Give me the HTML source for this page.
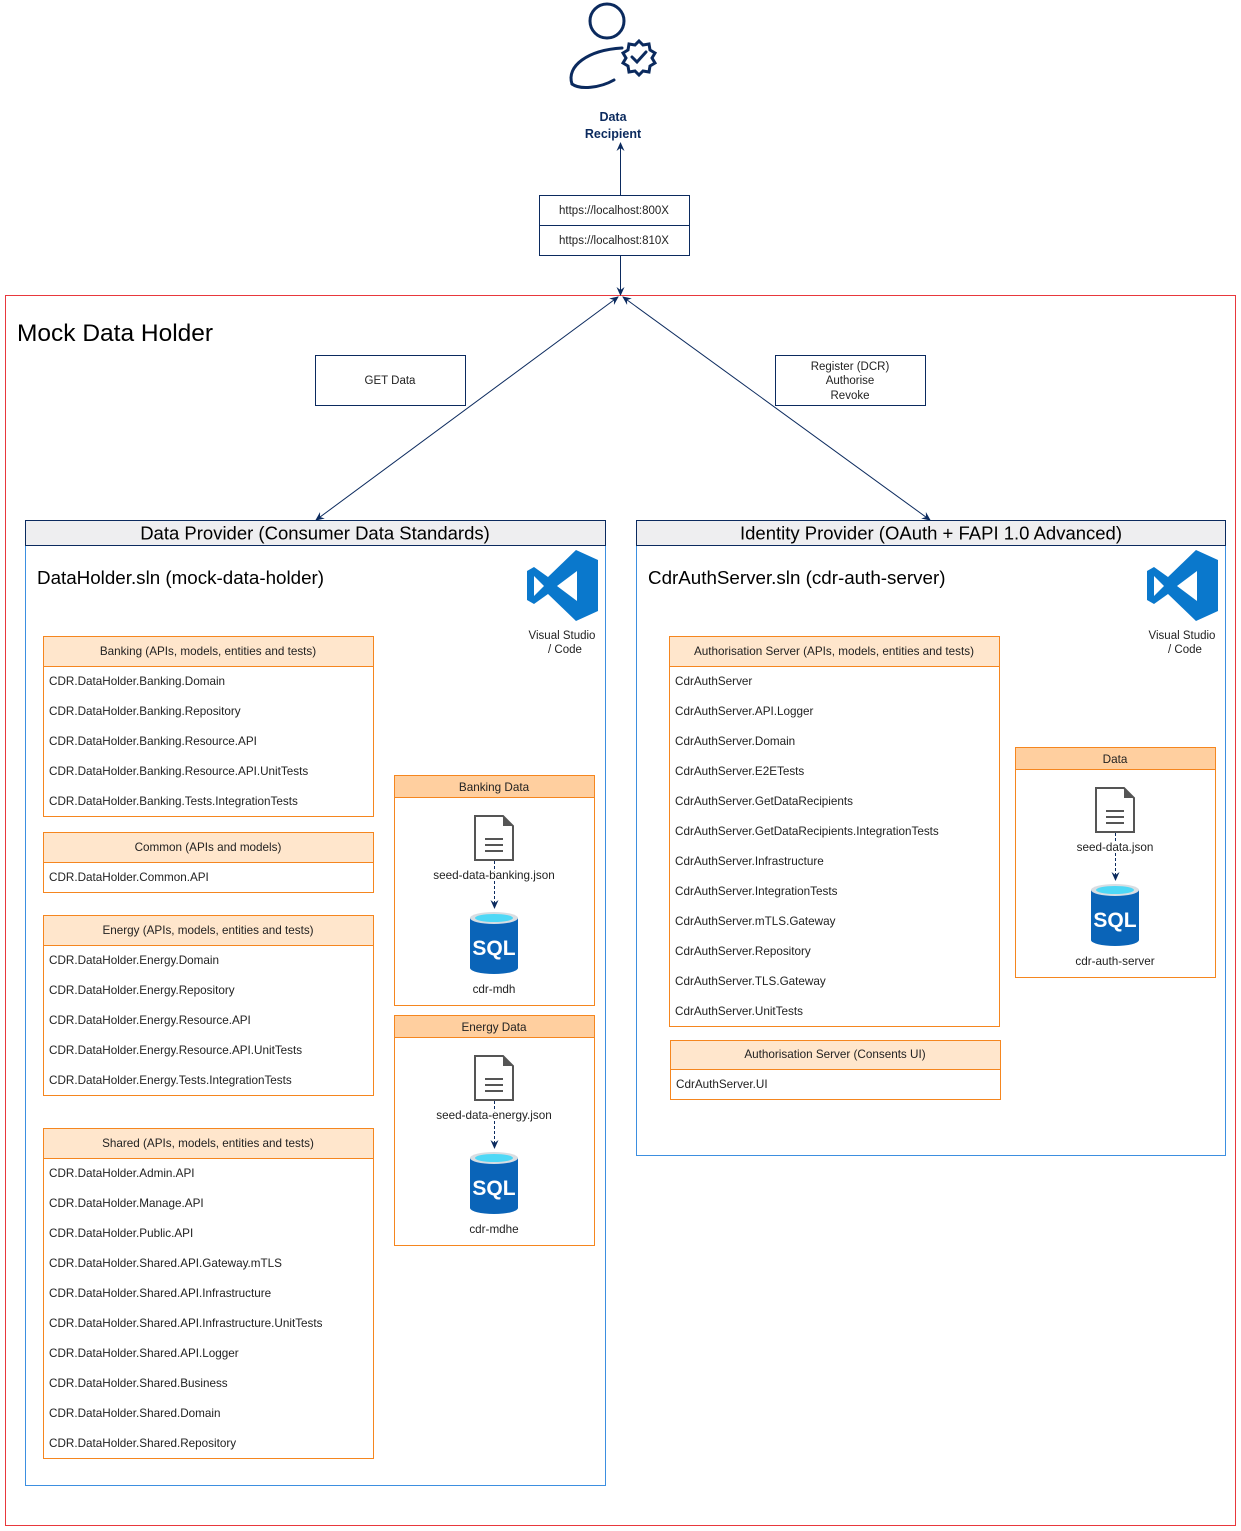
<!DOCTYPE html>
<html><head><meta charset="utf-8"><style>
html,body{margin:0;padding:0;background:#fff;}
svg{display:block;font-family:"Liberation Sans","DejaVu Sans",sans-serif;}
</style></head><body>
<svg width="1241" height="1531" viewBox="0 0 1241 1531" xmlns="http://www.w3.org/2000/svg">
<defs>
<marker id="ah" markerWidth="10" markerHeight="10" refX="8" refY="5" orient="auto-start-reverse" markerUnits="userSpaceOnUse">
<path d="M0,1 L9,5 L0,9 L3,5 Z" fill="#0b2a5e"/>
</marker>
</defs>

<rect x="5.5" y="295.5" width="1230" height="1230" fill="#fff" stroke="#e8383d" stroke-width="1"/>
<text x="17" y="341" font-size="24.5" fill="#000">Mock Data Holder</text>

<g fill="none" stroke="#0b2a5e" stroke-width="3" stroke-linecap="round">
<circle cx="607" cy="21" r="17"/>
<path d="M572,84 C566,66 588,50 622,48"/>
<path d="M572,84 C580,90 600,88 614,80"/>
<path d="M639,41 l4,4 6,-1 1,6 5,3 -3,5 3,5 -5,3 -1,6 -6,-1 -4,4 -4,-4 -6,1 -1,-6 -5,-3 3,-5 -3,-5 5,-3 1,-6 6,1 z"/>
<path d="M632,57 l5,5 9,-10"/>
</g>
<text x="613" y="121" font-size="12.5" font-weight="bold" fill="#0b2a5e" text-anchor="middle">Data</text>
<text x="613" y="138" font-size="12.5" font-weight="bold" fill="#0b2a5e" text-anchor="middle">Recipient</text>

<rect x="539.5" y="195.5" width="150" height="60" fill="#fff" stroke="#0b2a5e"/>
<line x1="539.5" y1="225.5" x2="689.5" y2="225.5" stroke="#0b2a5e"/>
<text x="614" y="214" font-size="11.5" fill="#222" text-anchor="middle">https://localhost:800X</text>
<text x="614" y="244" font-size="11.5" fill="#222" text-anchor="middle">https://localhost:810X</text>

<line x1="620.5" y1="195" x2="620.5" y2="143" stroke="#0b2a5e" marker-end="url(#ah)"/>
<line x1="620.5" y1="256" x2="620.5" y2="295" stroke="#0b2a5e" marker-end="url(#ah)"/>
<line x1="618" y1="297" x2="316" y2="520" stroke="#0b2a5e" marker-start="url(#ah)" marker-end="url(#ah)"/>
<line x1="623" y1="297" x2="930" y2="520" stroke="#0b2a5e" marker-start="url(#ah)" marker-end="url(#ah)"/>

<rect x="315.5" y="355.5" width="150" height="50" fill="#fff" stroke="#0b2a5e"/>
<text x="390" y="384" font-size="11.5" fill="#222" text-anchor="middle">GET Data</text>
<rect x="775.5" y="355.5" width="150" height="50" fill="#fff" stroke="#0b2a5e"/>
<text x="850" y="370" font-size="11.5" fill="#222" text-anchor="middle">Register (DCR)</text>
<text x="850" y="384" font-size="11.5" fill="#222" text-anchor="middle">Authorise</text>
<text x="850" y="399" font-size="11.5" fill="#222" text-anchor="middle">Revoke</text>

<rect x="25.5" y="520.5" width="580" height="965" fill="#fff" stroke="#3d8fe0"/>
<rect x="25.5" y="520.5" width="580" height="25" fill="#eeeef0" stroke="#0b2a5e"/>
<text x="315" y="539.5" font-size="18.5" fill="#000" text-anchor="middle">Data Provider (Consumer Data Standards)</text>
<text x="37" y="584" font-size="18.8" fill="#000">DataHolder.sln (mock-data-holder)</text>

<rect x="636.5" y="520.5" width="589" height="635" fill="#fff" stroke="#3d8fe0"/>
<rect x="636.5" y="520.5" width="589" height="25" fill="#eeeef0" stroke="#0b2a5e"/>
<text x="931" y="539.5" font-size="18.5" fill="#000" text-anchor="middle">Identity Provider (OAuth + FAPI 1.0 Advanced)</text>
<text x="648" y="584" font-size="18.8" fill="#000">CdrAuthServer.sln (cdr-auth-server)</text>

<g fill="#0a78cc">
<path d="M576,550 L598,560 L598,611 L576,621 L548,594 L534,604 L527,600 L527,571 L534,567 L548,577 Z"/>
<path fill="#fff" d="M534,576 L534,596 L544,586 Z M577,571 L577,601 L557,586 Z"/>
<path transform="translate(620,0)" d="M576,550 L598,560 L598,611 L576,621 L548,594 L534,604 L527,600 L527,571 L534,567 L548,577 Z"/>
<path transform="translate(620,0)" fill="#fff" d="M534,576 L534,596 L544,586 Z M577,571 L577,601 L557,586 Z"/>
</g>
<g font-size="11.5" fill="#222" text-anchor="middle">
<text x="562" y="639">Visual Studio</text><text x="565" y="653">/ Code</text>
<text x="1182" y="639">Visual Studio</text><text x="1185" y="653">/ Code</text>
</g>

<g font-size="11.7" fill="#222">
<rect x="43.5" y="636.5" width="330" height="180" fill="#fff" stroke="#f5861f"/>
<rect x="43.5" y="636.5" width="330" height="30" fill="#ffe6cc" stroke="#f5861f"/>
<text x="208" y="655" text-anchor="middle">Banking (APIs, models, entities and tests)</text>
<text x="49" y="685">CDR.DataHolder.Banking.Domain</text>
<text x="49" y="715">CDR.DataHolder.Banking.Repository</text>
<text x="49" y="745">CDR.DataHolder.Banking.Resource.API</text>
<text x="49" y="775">CDR.DataHolder.Banking.Resource.API.UnitTests</text>
<text x="49" y="805">CDR.DataHolder.Banking.Tests.IntegrationTests</text>
<rect x="43.5" y="832.5" width="330" height="60" fill="#fff" stroke="#f5861f"/>
<rect x="43.5" y="832.5" width="330" height="30" fill="#ffe6cc" stroke="#f5861f"/>
<text x="208" y="851" text-anchor="middle">Common (APIs and models)</text>
<text x="49" y="881">CDR.DataHolder.Common.API</text>
<rect x="43.5" y="915.5" width="330" height="180" fill="#fff" stroke="#f5861f"/>
<rect x="43.5" y="915.5" width="330" height="30" fill="#ffe6cc" stroke="#f5861f"/>
<text x="208" y="934" text-anchor="middle">Energy (APIs, models, entities and tests)</text>
<text x="49" y="964">CDR.DataHolder.Energy.Domain</text>
<text x="49" y="994">CDR.DataHolder.Energy.Repository</text>
<text x="49" y="1024">CDR.DataHolder.Energy.Resource.API</text>
<text x="49" y="1054">CDR.DataHolder.Energy.Resource.API.UnitTests</text>
<text x="49" y="1084">CDR.DataHolder.Energy.Tests.IntegrationTests</text>
<rect x="43.5" y="1128.5" width="330" height="330" fill="#fff" stroke="#f5861f"/>
<rect x="43.5" y="1128.5" width="330" height="30" fill="#ffe6cc" stroke="#f5861f"/>
<text x="208" y="1147" text-anchor="middle">Shared (APIs, models, entities and tests)</text>
<text x="49" y="1177">CDR.DataHolder.Admin.API</text>
<text x="49" y="1207">CDR.DataHolder.Manage.API</text>
<text x="49" y="1237">CDR.DataHolder.Public.API</text>
<text x="49" y="1267">CDR.DataHolder.Shared.API.Gateway.mTLS</text>
<text x="49" y="1297">CDR.DataHolder.Shared.API.Infrastructure</text>
<text x="49" y="1327">CDR.DataHolder.Shared.API.Infrastructure.UnitTests</text>
<text x="49" y="1357">CDR.DataHolder.Shared.API.Logger</text>
<text x="49" y="1387">CDR.DataHolder.Shared.Business</text>
<text x="49" y="1417">CDR.DataHolder.Shared.Domain</text>
<text x="49" y="1447">CDR.DataHolder.Shared.Repository</text>
<rect x="669.5" y="636.5" width="330" height="390" fill="#fff" stroke="#f5861f"/>
<rect x="669.5" y="636.5" width="330" height="30" fill="#ffe6cc" stroke="#f5861f"/>
<text x="834" y="655" text-anchor="middle">Authorisation Server (APIs, models, entities and tests)</text>
<text x="675" y="685">CdrAuthServer</text>
<text x="675" y="715">CdrAuthServer.API.Logger</text>
<text x="675" y="745">CdrAuthServer.Domain</text>
<text x="675" y="775">CdrAuthServer.E2ETests</text>
<text x="675" y="805">CdrAuthServer.GetDataRecipients</text>
<text x="675" y="835">CdrAuthServer.GetDataRecipients.IntegrationTests</text>
<text x="675" y="865">CdrAuthServer.Infrastructure</text>
<text x="675" y="895">CdrAuthServer.IntegrationTests</text>
<text x="675" y="925">CdrAuthServer.mTLS.Gateway</text>
<text x="675" y="955">CdrAuthServer.Repository</text>
<text x="675" y="985">CdrAuthServer.TLS.Gateway</text>
<text x="675" y="1015">CdrAuthServer.UnitTests</text>
<rect x="670.5" y="1040.5" width="330" height="59" fill="#fff" stroke="#f5861f"/>
<rect x="670.5" y="1040.5" width="330" height="29" fill="#ffe6cc" stroke="#f5861f"/>
<text x="835" y="1058" text-anchor="middle">Authorisation Server (Consents UI)</text>
<text x="676" y="1088">CdrAuthServer.UI</text>

<rect x="394.5" y="775.5" width="200" height="230" fill="#fff" stroke="#f5861f"/>
<rect x="394.5" y="775.5" width="200" height="22" fill="#ffcf9f" stroke="#f5861f"/>
<text x="494" y="791" text-anchor="middle">Banking Data</text>
<rect x="394.5" y="1015.5" width="200" height="230" fill="#fff" stroke="#f5861f"/>
<rect x="394.5" y="1015.5" width="200" height="22" fill="#ffcf9f" stroke="#f5861f"/>
<text x="494" y="1031" text-anchor="middle">Energy Data</text>
<rect x="1015.5" y="747.5" width="200" height="230" fill="#fff" stroke="#f5861f"/>
<rect x="1015.5" y="747.5" width="200" height="22" fill="#ffcf9f" stroke="#f5861f"/>
<text x="1115" y="763" text-anchor="middle">Data</text>
</g>

<g transform="translate(474,815)">
<path d="M1,1 L29,1 L39,11 L39,45 L1,45 Z" fill="#fff" stroke="#555" stroke-width="2"/>
<path d="M29,1 L39,11 L29,11 Z" fill="#555"/>
<path d="M11,24 H29 M11,30 H29 M11,36 H29" stroke="#555" stroke-width="2"/>
</g>
<g transform="translate(474,1055)">
<path d="M1,1 L29,1 L39,11 L39,45 L1,45 Z" fill="#fff" stroke="#555" stroke-width="2"/>
<path d="M29,1 L39,11 L29,11 Z" fill="#555"/>
<path d="M11,24 H29 M11,30 H29 M11,36 H29" stroke="#555" stroke-width="2"/>
</g>
<g transform="translate(1095,787)">
<path d="M1,1 L29,1 L39,11 L39,45 L1,45 Z" fill="#fff" stroke="#555" stroke-width="2"/>
<path d="M29,1 L39,11 L29,11 Z" fill="#555"/>
<path d="M11,24 H29 M11,30 H29 M11,36 H29" stroke="#555" stroke-width="2"/>
</g>

<g stroke="#0b2a5e" stroke-dasharray="3,2">
<line x1="494.5" y1="861" x2="494.5" y2="908" marker-end="url(#ah)"/>
<line x1="494.5" y1="1101" x2="494.5" y2="1148" marker-end="url(#ah)"/>
<line x1="1115.5" y1="833" x2="1115.5" y2="880" marker-end="url(#ah)"/>
</g>

<g font-size="11.7" fill="#222" text-anchor="middle">
<text x="494" y="879" stroke="#fff" stroke-width="3" paint-order="stroke">seed-data-banking.json</text>
<text x="494" y="1119" stroke="#fff" stroke-width="3" paint-order="stroke">seed-data-energy.json</text>
<text x="1115" y="851" stroke="#fff" stroke-width="3" paint-order="stroke">seed-data.json</text>
<text x="494" y="993">cdr-mdh</text>
<text x="494" y="1233">cdr-mdhe</text>
<text x="1115" y="965">cdr-auth-server</text>
</g>

<g transform="translate(470,912)">
<path d="M0,6 L0,56 A24,6 0 0 0 48,56 L48,6 Z" fill="#0a64b8"/>
<ellipse cx="24" cy="6" rx="24" ry="6" fill="#d8dde2"/>
<ellipse cx="24" cy="6" rx="19" ry="4" fill="#4fd8f6"/>
<text x="24" y="43" font-size="21" font-weight="bold" fill="#fff" text-anchor="middle">SQL</text>
</g>
<g transform="translate(470,1152)">
<path d="M0,6 L0,56 A24,6 0 0 0 48,56 L48,6 Z" fill="#0a64b8"/>
<ellipse cx="24" cy="6" rx="24" ry="6" fill="#d8dde2"/>
<ellipse cx="24" cy="6" rx="19" ry="4" fill="#4fd8f6"/>
<text x="24" y="43" font-size="21" font-weight="bold" fill="#fff" text-anchor="middle">SQL</text>
</g>
<g transform="translate(1091,884)">
<path d="M0,6 L0,56 A24,6 0 0 0 48,56 L48,6 Z" fill="#0a64b8"/>
<ellipse cx="24" cy="6" rx="24" ry="6" fill="#d8dde2"/>
<ellipse cx="24" cy="6" rx="19" ry="4" fill="#4fd8f6"/>
<text x="24" y="43" font-size="21" font-weight="bold" fill="#fff" text-anchor="middle">SQL</text>
</g>
</svg>
</body></html>
